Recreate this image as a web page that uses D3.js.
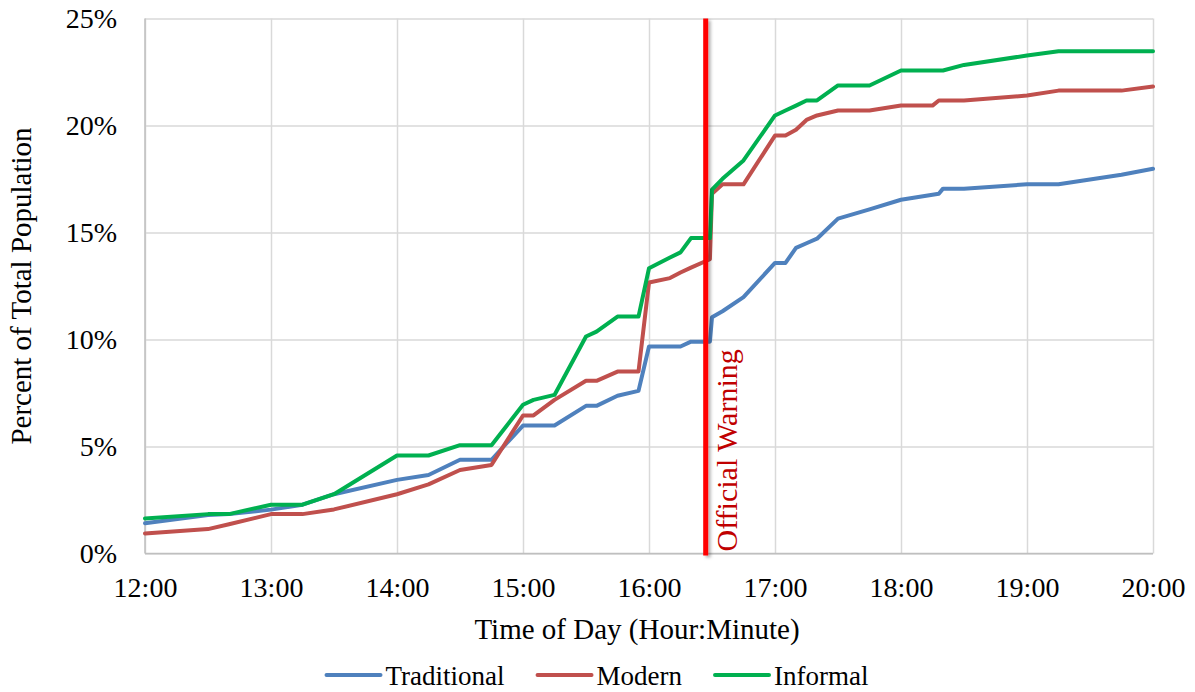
<!DOCTYPE html>
<html>
<head>
<meta charset="utf-8">
<script src="https://cdn.jsdelivr.net/npm/d3@7/dist/d3.min.js"></script>
<style>
    body { margin: 0; background: #ffffff; }
    svg text { font-family: "Times New Roman", "Liberation Serif", serif; fill: #000000; }
</style>
</head>
<body>
<div id="chart_div"></div>
<script>

// sample times (hour:minute) and the share of each group that has left, in percent
var times = ["12:00", "12:30", "12:40", "13:00", "13:15", "13:30", "14:00", "14:15", "14:30", "14:45",
    "15:00", "15:05", "15:15", "15:30", "15:35", "15:45", "15:55", "16:00", "16:10", "16:15",
    "16:20", "16:29", "16:30", "16:35", "16:45", "17:00", "17:05", "17:10", "17:15", "17:20",
    "17:30", "17:45", "18:00", "18:15", "18:18", "18:20", "18:30", "19:00", "19:15", "19:45", "20:00"];

var traditional = [1.41, 1.80, 1.84, 2.05, 2.28, 2.77, 3.44, 3.67, 4.38, 4.38,
    5.98, 5.98, 5.98, 6.90, 6.90, 7.37, 7.60, 9.67, 9.67, 9.67,
    9.90, 9.90, 11.04, 11.32, 11.98, 13.58, 13.58, 14.28, 14.50, 14.71,
    15.65, 16.08, 16.53, 16.76, 16.81, 17.05, 17.05, 17.25, 17.25, 17.70, 17.98];

var modern = [0.94, 1.14, 1.37, 1.84, 1.84, 2.06, 2.77, 3.23, 3.90, 4.14,
    6.45, 6.45, 7.18, 8.07, 8.07, 8.50, 8.50, 12.66, 12.87, 13.13,
    13.36, 13.75, 16.81, 17.25, 17.25, 19.53, 19.53, 19.80, 20.26, 20.47,
    20.70, 20.70, 20.93, 20.93, 21.17, 21.17, 21.17, 21.40, 21.63, 21.63, 21.82];

var informal = [1.64, 1.84, 1.84, 2.28, 2.28, 2.77, 4.58, 4.58, 5.06, 5.06,
    6.95, 7.18, 7.41, 10.14, 10.37, 11.07, 11.07, 13.33, 13.83, 14.07,
    14.74, 14.74, 17.00, 17.51, 18.37, 20.47, 20.70, 20.93, 21.17, 21.17,
    21.87, 21.87, 22.57, 22.57, 22.57, 22.57, 22.83, 23.27, 23.47, 23.47, 23.47];

var seriesNames = ["Traditional", "Modern", "Informal"];
var seriesColors = ["#4f81bd", "#c0504d", "#00b050"];

var xTicks = ["12:00", "13:00", "14:00", "15:00", "16:00", "17:00", "18:00", "19:00", "20:00"];
var yTicks = [0, 5, 10, 15, 20, 25];

var warningTime = "16:27";
var warningLabel = "Official Warning";


function DrawChart() {

    var self = this;

    self.width = 1195;
    self.height = 692;
    self.margin = {left: 145, right: 42, top: 18.5, bottom: 138.5};

    self.svg = d3.select("#chart_div").append("svg")
        .attr("width", self.width)
        .attr("height", self.height);

    // soft shadow for the warning bar (user space so a thin shape still renders)
    self.svg.append("defs").append("filter")
        .attr("id", "shadow")
        .attr("filterUnits", "userSpaceOnUse")
        .attr("x", 0).attr("y", 0)
        .attr("width", self.width).attr("height", self.height)
        .append("feDropShadow")
        .attr("dx", 2.5).attr("dy", 2)
        .attr("stdDeviation", 1.5)
        .attr("flood-color", "#000000")
        .attr("flood-opacity", 0.3);
}


DrawChart.prototype.draw = function() {

    var self = this;
    var parseTime = d3.timeParse("%H:%M");

    var x = d3.scaleTime()
        .domain([parseTime(xTicks[0]), parseTime(xTicks[xTicks.length - 1])])
        .range([self.margin.left, self.width - self.margin.right]);

    var y = d3.scaleLinear()
        .domain([0, 25])
        .range([self.height - self.margin.bottom, self.margin.top]);

    var plotW = x.range()[1] - x.range()[0];
    var plotH = y.range()[0] - y.range()[1];

    // y axis with horizontal gridlines
    self.svg.append("g")
        .attr("class", "y-axis")
        .attr("transform", "translate(" + self.margin.left + ",0)")
        .call(d3.axisLeft(y)
            .tickValues(yTicks)
            .tickSize(-plotW)
            .tickPadding(28)
            .tickFormat(function (d) { return d + "%"; }))
        .call(function (g) {
            g.select(".domain").remove();
            g.selectAll("line").attr("stroke", "#d9d9d9").attr("stroke-width", 1.5);
            g.selectAll("text").attr("font-size", 28).attr("fill", "#000");
        });

    // x axis with vertical gridlines
    self.svg.append("g")
        .attr("class", "x-axis")
        .attr("transform", "translate(0," + y(0) + ")")
        .call(d3.axisBottom(x)
            .tickValues(xTicks.map(parseTime))
            .tickSize(-plotH)
            .tickFormat(d3.timeFormat("%H:%M")))
        .call(function (g) {
            g.select(".domain").remove();
            g.selectAll("line").attr("stroke", "#d9d9d9").attr("stroke-width", 1.5);
            g.selectAll("text")
                .attr("font-size", 28)
                .attr("fill", "#000")
                .attr("y", 43)
                .attr("dy", null);
        });

    // axis lines
    self.svg.append("line")
        .attr("x1", x.range()[0]).attr("x2", x.range()[0])
        .attr("y1", y.range()[1]).attr("y2", y.range()[0])
        .attr("stroke", "#bfbfbf").attr("stroke-width", 1.5);
    self.svg.append("line")
        .attr("x1", x.range()[0]).attr("x2", x.range()[1])
        .attr("y1", y(0)).attr("y2", y(0))
        .attr("stroke", "#bfbfbf").attr("stroke-width", 1.5);

    // series
    var seriesValues = [traditional, modern, informal];
    var series = seriesNames.map(function (name, i) {
        return {
            name: name,
            color: seriesColors[i],
            points: times.map(function (t, j) {
                return {t: parseTime(t), v: seriesValues[i][j]};
            })
        };
    });

    var line = d3.line()
        .x(function (d) { return x(d.t); })
        .y(function (d) { return y(d.v); });

    self.svg.selectAll(".series")
        .data(series)
        .enter().append("path")
        .attr("class", "series")
        .attr("fill", "none")
        .attr("stroke", function (d) { return d.color; })
        .attr("stroke-width", 4)
        .attr("stroke-linejoin", "round")
        .attr("stroke-linecap", "round")
        .attr("d", function (d) { return line(d.points); });

    // official warning marker
    var wx = x(parseTime(warningTime));
    self.svg.append("rect")
        .attr("x", wx - 2.5)
        .attr("y", y(25))
        .attr("width", 5)
        .attr("height", y(0) - y(25) + 2)
        .attr("fill", "#ff0000")
        .attr("filter", "url(#shadow)");

    self.svg.append("text")
        .attr("transform", "translate(" + (wx + 31) + "," + (y(0) - 2) + ") rotate(-90)")
        .attr("font-size", 30)
        .style("fill", "#c00000")
        .text(warningLabel);

    // axis titles
    self.svg.append("text")
        .attr("x", 637)
        .attr("y", 639)
        .attr("text-anchor", "middle")
        .attr("font-size", 29)
        .text("Time of Day (Hour:Minute)");

    self.svg.append("text")
        .attr("transform", "translate(31," + ((y.range()[0] + y.range()[1]) / 2) + ") rotate(-90)")
        .attr("text-anchor", "middle")
        .attr("font-size", 29)
        .text("Percent of Total Population");

    // legend
    var legend = self.svg.append("g").attr("class", "legend");
    var item = legend.selectAll(".item")
        .data(series)
        .enter().append("g")
        .attr("class", "item");

    item.append("line")
        .attr("x1", 0).attr("x2", 54)
        .attr("y1", 0).attr("y2", 0)
        .attr("stroke", function (d) { return d.color; })
        .attr("stroke-width", 4)
        .attr("stroke-linecap", "round");

    item.append("text")
        .attr("x", 59)
        .attr("y", 10)
        .attr("font-size", 27)
        .text(function (d) { return d.name; });

    var offset = 0;
    var offsets = [];
    item.each(function () {
        offsets.push(offset);
        offset += 59 + d3.select(this).select("text").node().getComputedTextLength() + 33;
    });
    var total = offset - 33;
    var startX = self.width / 2 - total / 2;
    item.attr("transform", function (d, i) {
        return "translate(" + (startX + offsets[i]) + ",675)";
    });
};


var chart = new DrawChart();
chart.draw();

</script>
</body>
</html>
